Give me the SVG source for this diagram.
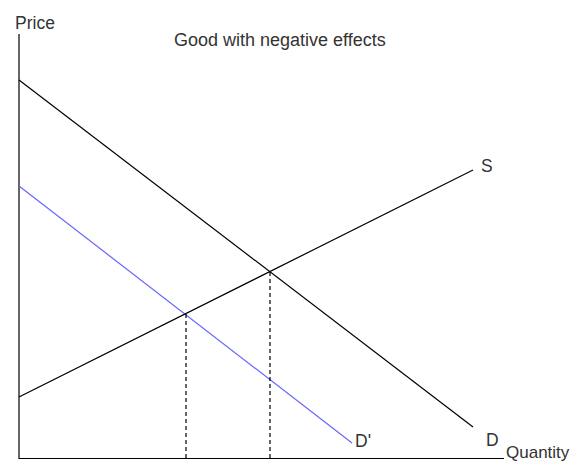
<svg xmlns="http://www.w3.org/2000/svg" width="579" height="462" viewBox="0 0 579 462">
<style>
.t{font-family:"Liberation Sans",Arial,sans-serif;font-size:17.5px;fill:#333}
.ln{stroke:#000;stroke-width:1.2;fill:none}
.bl{stroke:#6666ff;stroke-width:1.2;fill:none}
.ds{stroke:#000;stroke-width:1.2;stroke-dasharray:4 3;fill:none}
</style>
<rect width="579" height="462" fill="#fff"/>
<g id="connectors">
<path class="ln" d="M19 34 V458.5 H504"/>
<line class="ln" x1="19" y1="80" x2="473" y2="427"/>
<line class="bl" x1="19" y1="186" x2="352" y2="443"/>
<line class="ln" x1="19" y1="397" x2="473" y2="170"/>
<line class="ds" x1="270" y1="272" x2="270" y2="458"/>
<line class="ds" x1="186" y1="314" x2="186" y2="458"/>
</g>
<g id="price"><text class="t" x="15" y="29">Price</text></g>
<g id="title"><text class="t" x="174" y="46" style="font-size:18px">Good with negative effects</text></g>
<g id="s-label"><text class="t" x="481" y="172">S</text></g>
<g id="dprime-label"><text class="t" x="355" y="447">D'</text></g>
<g id="d-label"><text class="t" x="486" y="446">D</text></g>
<g id="quantity"><text class="t" x="506" y="458" style="font-size:17px">Quantity</text></g>
</svg>
